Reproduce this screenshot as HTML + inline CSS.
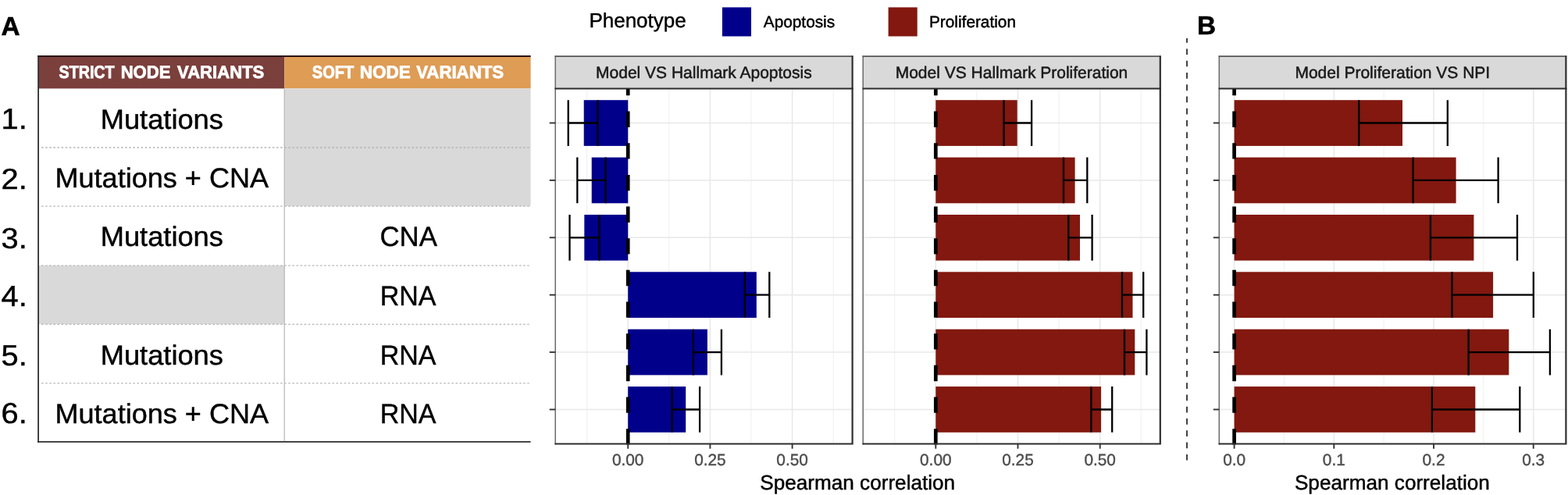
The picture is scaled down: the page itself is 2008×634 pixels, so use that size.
<!DOCTYPE html>
<html lang="en"><head><meta charset="utf-8"><title>Figure</title>
<style>html,body{margin:0;padding:0;background:#fff;overflow:hidden;}svg{display:block;}text{font-family:'Liberation Sans', Arial, Helvetica, sans-serif;text-rendering:geometricPrecision;}.hdr{font-weight:bold;font-size:22.8px;fill:#fff;stroke:#fff;stroke-width:0.8px;}.cell{font-size:35.4px;fill:#000;stroke:#000;stroke-width:0.45px;text-anchor:middle;}.num{font-size:37.4px;fill:#000;stroke:#000;stroke-width:0.45px;}.lab{font-weight:bold;font-size:33.3px;fill:#000;stroke:#000;stroke-width:0.6px;}.strip{font-size:21px;fill:#1a1a1a;stroke:#1a1a1a;stroke-width:0.5px;text-anchor:middle;}.tick{font-size:20.8px;fill:#4d4d4d;stroke:#4d4d4d;stroke-width:0.4px;text-anchor:middle;}.axt{font-size:26.15px;fill:#000;stroke:#000;stroke-width:0.45px;text-anchor:middle;}.leg{font-size:20.8px;fill:#000;stroke:#000;stroke-width:0.45px;}.legt{font-size:26px;fill:#000;stroke:#000;stroke-width:0.45px;}</style></head><body>
<svg width="2008" height="634" viewBox="0 0 2008 634">
<rect x="0" y="0" width="2008" height="634" fill="#ffffff"/>
<g id="table">
<rect x="49.1" y="71.1" width="315.1" height="42.3" fill="#7B3F3C"/>
<rect x="364.2" y="71.1" width="315.4" height="42.3" fill="#DE9C55"/>
<rect x="364.2" y="113.4" width="315.4" height="75.6" fill="#D9D9D9"/>
<rect x="364.2" y="189.0" width="315.4" height="75.1" fill="#D9D9D9"/>
<rect x="49.1" y="340.2" width="315.1" height="75.1" fill="#D9D9D9"/>
<line x1="53.1" y1="189.0" x2="677.6" y2="189.0" stroke="#B4B4B4" stroke-width="1.3" stroke-dasharray="2.5 2.6"/>
<line x1="53.1" y1="264.1" x2="677.6" y2="264.1" stroke="#B4B4B4" stroke-width="1.3" stroke-dasharray="2.5 2.6"/>
<line x1="53.1" y1="340.2" x2="677.6" y2="340.2" stroke="#B4B4B4" stroke-width="1.3" stroke-dasharray="2.5 2.6"/>
<line x1="53.1" y1="415.3" x2="677.6" y2="415.3" stroke="#B4B4B4" stroke-width="1.3" stroke-dasharray="2.5 2.6"/>
<line x1="53.1" y1="490.8" x2="677.6" y2="490.8" stroke="#B4B4B4" stroke-width="1.3" stroke-dasharray="2.5 2.6"/>
<line x1="364.2" y1="113.4" x2="364.2" y2="565.9" stroke="#B5B5B5" stroke-width="1.2"/>
<line x1="48.2" y1="72.0" x2="679.6" y2="72.0" stroke="#2a1210" stroke-width="1.8"/>
<line x1="49.1" y1="71.1" x2="49.1" y2="566.8" stroke="#2e2e2e" stroke-width="1.8"/>
<line x1="48.2" y1="565.9" x2="679.6" y2="565.9" stroke="#2e2e2e" stroke-width="1.8"/>
<text class="hdr" y="100.3"><tspan x="75.51" textLength="71.11" lengthAdjust="spacingAndGlyphs">STRICT</tspan> <tspan x="154.65" textLength="63.81" lengthAdjust="spacingAndGlyphs">NODE</tspan> <tspan x="227.08" textLength="111.24" lengthAdjust="spacingAndGlyphs">VARIANTS</tspan></text>
<text class="hdr" y="100.3"><tspan x="399.80" textLength="53.33" lengthAdjust="spacingAndGlyphs">SOFT</tspan> <tspan x="460.73" textLength="64.96" lengthAdjust="spacingAndGlyphs">NODE</tspan> <tspan x="533.18" textLength="111.95" lengthAdjust="spacingAndGlyphs">VARIANTS</tspan></text>
<text class="num" x="1.6" y="165.2" transform="translate(1.6 0) scale(1.065 1) translate(-1.6 0)">1.</text>
<text class="cell" x="0" y="164.9" transform="translate(207.3 0) scale(1.025 1)">Mutations</text>
<text class="num" x="1.6" y="242.0" transform="translate(1.6 0) scale(1.065 1) translate(-1.6 0)">2.</text>
<text class="cell" x="0" y="240.3" transform="translate(207.3 0) scale(1.019 1)">Mutations + CNA</text>
<text class="num" x="1.6" y="318.3" transform="translate(1.6 0) scale(1.065 1) translate(-1.6 0)">3.</text>
<text class="cell" x="0" y="315.3" transform="translate(207.3 0) scale(1.025 1)">Mutations</text>
<text class="cell" x="0" y="315.3" transform="translate(523.2 0) scale(0.982 1)">CNA</text>
<text class="num" x="1.6" y="392.1" transform="translate(1.6 0) scale(1.065 1) translate(-1.6 0)">4.</text>
<text class="cell" x="0" y="391.0" transform="translate(522.5 0) scale(0.96 1)">RNA</text>
<text class="num" x="1.6" y="467.5" transform="translate(1.6 0) scale(1.065 1) translate(-1.6 0)">5.</text>
<text class="cell" x="0" y="466.9" transform="translate(207.3 0) scale(1.025 1)">Mutations</text>
<text class="cell" x="0" y="466.9" transform="translate(522.5 0) scale(0.96 1)">RNA</text>
<text class="num" x="1.6" y="542.0" transform="translate(1.6 0) scale(1.065 1) translate(-1.6 0)">6.</text>
<text class="cell" x="0" y="541.7" transform="translate(207.3 0) scale(1.019 1)">Mutations + CNA</text>
<text class="cell" x="0" y="541.7" transform="translate(522.5 0) scale(0.96 1)">RNA</text>
</g>
<text class="lab" x="1.6" y="44.6">A</text>
<text class="lab" x="1532.9" y="44.2">B</text>
<line x1="1520" y1="49.0" x2="1520" y2="589.7" stroke="#1c1c1c" stroke-width="1.65" stroke-dasharray="7.7 7.58" stroke-dashoffset="1.9"/>
<text class="legt" x="754.4" y="34.6">Phenotype</text>
<rect x="924.9" y="9.4" width="37.1" height="37.1" fill="#00008B"/>
<text class="leg" x="977.8" y="35.4">Apoptosis</text>
<rect x="1137.6" y="9.4" width="37.1" height="37.1" fill="#82180F"/>
<text class="leg" x="1190.0" y="35.4">Proliferation</text>
<g id="panel1">
<rect x="711.2" y="113.5" width="380.4" height="455.0" fill="#fff"/>
<line x1="751.6" y1="113.5" x2="751.6" y2="568.5" stroke="#ECECEC" stroke-width="0.85"/>
<line x1="804.2" y1="113.5" x2="804.2" y2="568.5" stroke="#E8E8E8" stroke-width="1.5"/>
<line x1="856.8" y1="113.5" x2="856.8" y2="568.5" stroke="#ECECEC" stroke-width="0.85"/>
<line x1="909.4" y1="113.5" x2="909.4" y2="568.5" stroke="#E8E8E8" stroke-width="1.5"/>
<line x1="962.0" y1="113.5" x2="962.0" y2="568.5" stroke="#ECECEC" stroke-width="0.85"/>
<line x1="1014.6" y1="113.5" x2="1014.6" y2="568.5" stroke="#E8E8E8" stroke-width="1.5"/>
<line x1="1067.2" y1="113.5" x2="1067.2" y2="568.5" stroke="#ECECEC" stroke-width="0.85"/>
<line x1="711.2" y1="157.5" x2="1091.6" y2="157.5" stroke="#E8E8E8" stroke-width="1.5"/>
<line x1="711.2" y1="230.9" x2="1091.6" y2="230.9" stroke="#E8E8E8" stroke-width="1.5"/>
<line x1="711.2" y1="304.3" x2="1091.6" y2="304.3" stroke="#E8E8E8" stroke-width="1.5"/>
<line x1="711.2" y1="377.7" x2="1091.6" y2="377.7" stroke="#E8E8E8" stroke-width="1.5"/>
<line x1="711.2" y1="451.1" x2="1091.6" y2="451.1" stroke="#E8E8E8" stroke-width="1.5"/>
<line x1="711.2" y1="524.5" x2="1091.6" y2="524.5" stroke="#E8E8E8" stroke-width="1.5"/>
<rect x="747.7" y="128.2" width="56.5" height="58.7" fill="#00008B"/>
<rect x="757.7" y="201.6" width="46.5" height="58.7" fill="#00008B"/>
<rect x="748.3" y="275.0" width="55.9" height="58.7" fill="#00008B"/>
<rect x="804.2" y="348.3" width="164.6" height="58.7" fill="#00008B"/>
<rect x="804.2" y="421.7" width="101.7" height="58.7" fill="#00008B"/>
<rect x="804.2" y="495.1" width="74.0" height="58.7" fill="#00008B"/>
<path d="M727.7 128.2V186.9M765.6 128.2V186.9M727.7 157.5H765.6" stroke="#000" stroke-width="2.3" fill="none"/>
<path d="M739.3 201.6V260.3M775.7 201.6V260.3M739.3 230.9H775.7" stroke="#000" stroke-width="2.3" fill="none"/>
<path d="M729.5 275.0V333.7M767.4 275.0V333.7M729.5 304.3H767.4" stroke="#000" stroke-width="2.3" fill="none"/>
<path d="M953.8 348.3V407.0M985.3 348.3V407.0M953.8 377.7H985.3" stroke="#000" stroke-width="2.3" fill="none"/>
<path d="M887.9 421.7V480.4M923.9 421.7V480.4M887.9 451.1H923.9" stroke="#000" stroke-width="2.3" fill="none"/>
<path d="M860.6 495.1V553.8M896.1 495.1V553.8M860.6 524.5H896.1" stroke="#000" stroke-width="2.3" fill="none"/>
<line x1="804.2" y1="569.5" x2="804.2" y2="113.5" stroke="#000" stroke-width="4.7" stroke-dasharray="20.33 20.33"/>
<rect x="711.2" y="72.1" width="380.4" height="41.4" fill="#D9D9D9"/>
<text class="strip" x="901.4" y="99.8">Model VS Hallmark Apoptosis</text>
<path d="M711.2 71.39999999999999V569.4" stroke="#6a6a6a" stroke-width="1.5" fill="none"/>
<path d="M710.5 72.1H1092.5" stroke="#555" stroke-width="1.6" fill="none"/>
<path d="M1091.6 71.39999999999999V569.6M710.5 568.5H1092.6999999999998" stroke="#2e2e2e" stroke-width="2.2" fill="none"/>
<path d="M710.5 113.5H1092.6" stroke="#2b2b2b" stroke-width="2.2" fill="none"/>
<line x1="703.7" y1="157.5" x2="711.2" y2="157.5" stroke="#333" stroke-width="1.9"/>
<line x1="703.7" y1="230.9" x2="711.2" y2="230.9" stroke="#333" stroke-width="1.9"/>
<line x1="703.7" y1="304.3" x2="711.2" y2="304.3" stroke="#333" stroke-width="1.9"/>
<line x1="703.7" y1="377.7" x2="711.2" y2="377.7" stroke="#333" stroke-width="1.9"/>
<line x1="703.7" y1="451.1" x2="711.2" y2="451.1" stroke="#333" stroke-width="1.9"/>
<line x1="703.7" y1="524.5" x2="711.2" y2="524.5" stroke="#333" stroke-width="1.9"/>
<line x1="804.2" y1="568.5" x2="804.2" y2="574.7" stroke="#333" stroke-width="1.9"/>
<text class="tick" x="804.2" y="595.7">0.00</text>
<line x1="909.4" y1="568.5" x2="909.4" y2="574.7" stroke="#333" stroke-width="1.9"/>
<text class="tick" x="909.4" y="595.7">0.25</text>
<line x1="1014.6" y1="568.5" x2="1014.6" y2="574.7" stroke="#333" stroke-width="1.9"/>
<text class="tick" x="1014.6" y="595.7">0.50</text>
</g>
<g id="panel2">
<rect x="1105.2" y="113.5" width="380.6" height="455.0" fill="#fff"/>
<line x1="1145.7" y1="113.5" x2="1145.7" y2="568.5" stroke="#ECECEC" stroke-width="0.85"/>
<line x1="1198.3" y1="113.5" x2="1198.3" y2="568.5" stroke="#E8E8E8" stroke-width="1.5"/>
<line x1="1250.9" y1="113.5" x2="1250.9" y2="568.5" stroke="#ECECEC" stroke-width="0.85"/>
<line x1="1303.5" y1="113.5" x2="1303.5" y2="568.5" stroke="#E8E8E8" stroke-width="1.5"/>
<line x1="1356.1" y1="113.5" x2="1356.1" y2="568.5" stroke="#ECECEC" stroke-width="0.85"/>
<line x1="1408.7" y1="113.5" x2="1408.7" y2="568.5" stroke="#E8E8E8" stroke-width="1.5"/>
<line x1="1461.3" y1="113.5" x2="1461.3" y2="568.5" stroke="#ECECEC" stroke-width="0.85"/>
<line x1="1105.2" y1="157.5" x2="1485.8" y2="157.5" stroke="#E8E8E8" stroke-width="1.5"/>
<line x1="1105.2" y1="230.9" x2="1485.8" y2="230.9" stroke="#E8E8E8" stroke-width="1.5"/>
<line x1="1105.2" y1="304.3" x2="1485.8" y2="304.3" stroke="#E8E8E8" stroke-width="1.5"/>
<line x1="1105.2" y1="377.7" x2="1485.8" y2="377.7" stroke="#E8E8E8" stroke-width="1.5"/>
<line x1="1105.2" y1="451.1" x2="1485.8" y2="451.1" stroke="#E8E8E8" stroke-width="1.5"/>
<line x1="1105.2" y1="524.5" x2="1485.8" y2="524.5" stroke="#E8E8E8" stroke-width="1.5"/>
<rect x="1198.3" y="128.2" width="104.4" height="58.7" fill="#82180F"/>
<rect x="1198.3" y="201.6" width="178.3" height="58.7" fill="#82180F"/>
<rect x="1198.3" y="275.0" width="184.7" height="58.7" fill="#82180F"/>
<rect x="1198.3" y="348.3" width="252.2" height="58.7" fill="#82180F"/>
<rect x="1198.3" y="421.7" width="255.0" height="58.7" fill="#82180F"/>
<rect x="1198.3" y="495.1" width="211.8" height="58.7" fill="#82180F"/>
<path d="M1285.5 128.2V186.9M1321.1 128.2V186.9M1285.5 157.5H1321.1" stroke="#000" stroke-width="2.3" fill="none"/>
<path d="M1362.0 201.6V260.3M1392.3 201.6V260.3M1362.0 230.9H1392.3" stroke="#000" stroke-width="2.3" fill="none"/>
<path d="M1368.3 275.0V333.7M1398.6 275.0V333.7M1368.3 304.3H1398.6" stroke="#000" stroke-width="2.3" fill="none"/>
<path d="M1437.0 348.3V407.0M1464.2 348.3V407.0M1437.0 377.7H1464.2" stroke="#000" stroke-width="2.3" fill="none"/>
<path d="M1440.0 421.7V480.4M1468.4 421.7V480.4M1440.0 451.1H1468.4" stroke="#000" stroke-width="2.3" fill="none"/>
<path d="M1397.4 495.1V553.8M1424.2 495.1V553.8M1397.4 524.5H1424.2" stroke="#000" stroke-width="2.3" fill="none"/>
<line x1="1198.3" y1="569.5" x2="1198.3" y2="113.5" stroke="#000" stroke-width="4.7" stroke-dasharray="20.33 20.33"/>
<rect x="1105.2" y="72.1" width="380.6" height="41.4" fill="#D9D9D9"/>
<text class="strip" x="1295.5" y="99.8">Model VS Hallmark Proliferation</text>
<path d="M1105.2 71.39999999999999V569.4" stroke="#6a6a6a" stroke-width="1.5" fill="none"/>
<path d="M1104.5 72.1H1486.7" stroke="#555" stroke-width="1.6" fill="none"/>
<path d="M1485.8 71.39999999999999V569.6M1104.5 568.5H1486.8999999999999" stroke="#2e2e2e" stroke-width="2.2" fill="none"/>
<path d="M1104.5 113.5H1486.8" stroke="#2b2b2b" stroke-width="2.2" fill="none"/>
<line x1="1198.3" y1="568.5" x2="1198.3" y2="574.7" stroke="#333" stroke-width="1.9"/>
<text class="tick" x="1198.3" y="595.7">0.00</text>
<line x1="1303.5" y1="568.5" x2="1303.5" y2="574.7" stroke="#333" stroke-width="1.9"/>
<text class="tick" x="1303.5" y="595.7">0.25</text>
<line x1="1408.7" y1="568.5" x2="1408.7" y2="574.7" stroke="#333" stroke-width="1.9"/>
<text class="tick" x="1408.7" y="595.7">0.50</text>
</g>
<g id="panel3">
<rect x="1561.3" y="113.5" width="444.1" height="455.0" fill="#fff"/>
<line x1="1580.6" y1="113.5" x2="1580.6" y2="568.5" stroke="#E8E8E8" stroke-width="1.5"/>
<line x1="1644.4" y1="113.5" x2="1644.4" y2="568.5" stroke="#ECECEC" stroke-width="0.85"/>
<line x1="1708.3" y1="113.5" x2="1708.3" y2="568.5" stroke="#E8E8E8" stroke-width="1.5"/>
<line x1="1772.1" y1="113.5" x2="1772.1" y2="568.5" stroke="#ECECEC" stroke-width="0.85"/>
<line x1="1836.0" y1="113.5" x2="1836.0" y2="568.5" stroke="#E8E8E8" stroke-width="1.5"/>
<line x1="1899.8" y1="113.5" x2="1899.8" y2="568.5" stroke="#ECECEC" stroke-width="0.85"/>
<line x1="1963.7" y1="113.5" x2="1963.7" y2="568.5" stroke="#E8E8E8" stroke-width="1.5"/>
<line x1="1561.3" y1="157.5" x2="2005.4" y2="157.5" stroke="#E8E8E8" stroke-width="1.5"/>
<line x1="1561.3" y1="230.9" x2="2005.4" y2="230.9" stroke="#E8E8E8" stroke-width="1.5"/>
<line x1="1561.3" y1="304.3" x2="2005.4" y2="304.3" stroke="#E8E8E8" stroke-width="1.5"/>
<line x1="1561.3" y1="377.7" x2="2005.4" y2="377.7" stroke="#E8E8E8" stroke-width="1.5"/>
<line x1="1561.3" y1="451.1" x2="2005.4" y2="451.1" stroke="#E8E8E8" stroke-width="1.5"/>
<line x1="1561.3" y1="524.5" x2="2005.4" y2="524.5" stroke="#E8E8E8" stroke-width="1.5"/>
<rect x="1580.6" y="128.2" width="215.4" height="58.7" fill="#82180F"/>
<rect x="1580.6" y="201.6" width="284.0" height="58.7" fill="#82180F"/>
<rect x="1580.6" y="275.0" width="306.8" height="58.7" fill="#82180F"/>
<rect x="1580.6" y="348.3" width="331.5" height="58.7" fill="#82180F"/>
<rect x="1580.6" y="421.7" width="351.7" height="58.7" fill="#82180F"/>
<rect x="1580.6" y="495.1" width="308.7" height="58.7" fill="#82180F"/>
<path d="M1740.2 128.2V186.9M1853.8 128.2V186.9M1740.2 157.5H1853.8" stroke="#000" stroke-width="2.3" fill="none"/>
<path d="M1809.6 201.6V260.3M1918.6 201.6V260.3M1809.6 230.9H1918.6" stroke="#000" stroke-width="2.3" fill="none"/>
<path d="M1831.9 275.0V333.7M1943.0 275.0V333.7M1831.9 304.3H1943.0" stroke="#000" stroke-width="2.3" fill="none"/>
<path d="M1859.4 348.3V407.0M1963.8 348.3V407.0M1859.4 377.7H1963.8" stroke="#000" stroke-width="2.3" fill="none"/>
<path d="M1880.6 421.7V480.4M1984.9 421.7V480.4M1880.6 451.1H1984.9" stroke="#000" stroke-width="2.3" fill="none"/>
<path d="M1833.9 495.1V553.8M1946.3 495.1V553.8M1833.9 524.5H1946.3" stroke="#000" stroke-width="2.3" fill="none"/>
<line x1="1580.6" y1="569.5" x2="1580.6" y2="113.5" stroke="#000" stroke-width="4.7" stroke-dasharray="20.33 20.33"/>
<rect x="1561.3" y="72.1" width="444.1" height="41.4" fill="#D9D9D9"/>
<text class="strip" x="1783.3" y="99.8">Model Proliferation VS NPI</text>
<path d="M1561.3 71.39999999999999V569.4" stroke="#6a6a6a" stroke-width="1.5" fill="none"/>
<path d="M1560.6 72.1H2006.3000000000002" stroke="#555" stroke-width="1.6" fill="none"/>
<path d="M2005.4 71.39999999999999V569.6M1560.6 568.5H2006.5" stroke="#2e2e2e" stroke-width="2.2" fill="none"/>
<path d="M1560.6 113.5H2006.4" stroke="#2b2b2b" stroke-width="2.2" fill="none"/>
<line x1="1553.8" y1="157.5" x2="1561.3" y2="157.5" stroke="#333" stroke-width="1.9"/>
<line x1="1553.8" y1="230.9" x2="1561.3" y2="230.9" stroke="#333" stroke-width="1.9"/>
<line x1="1553.8" y1="304.3" x2="1561.3" y2="304.3" stroke="#333" stroke-width="1.9"/>
<line x1="1553.8" y1="377.7" x2="1561.3" y2="377.7" stroke="#333" stroke-width="1.9"/>
<line x1="1553.8" y1="451.1" x2="1561.3" y2="451.1" stroke="#333" stroke-width="1.9"/>
<line x1="1553.8" y1="524.5" x2="1561.3" y2="524.5" stroke="#333" stroke-width="1.9"/>
<line x1="1580.6" y1="568.5" x2="1580.6" y2="574.7" stroke="#333" stroke-width="1.9"/>
<text class="tick" x="1580.6" y="595.7">0.0</text>
<line x1="1708.3" y1="568.5" x2="1708.3" y2="574.7" stroke="#333" stroke-width="1.9"/>
<text class="tick" x="1708.3" y="595.7">0.1</text>
<line x1="1836.0" y1="568.5" x2="1836.0" y2="574.7" stroke="#333" stroke-width="1.9"/>
<text class="tick" x="1836.0" y="595.7">0.2</text>
<line x1="1963.7" y1="568.5" x2="1963.7" y2="574.7" stroke="#333" stroke-width="1.9"/>
<text class="tick" x="1963.7" y="595.7">0.3</text>
</g>
<text class="axt" x="1098.2" y="627">Spearman correlation</text>
<text class="axt" x="1782.9" y="627">Spearman correlation</text>
</svg></body></html>
